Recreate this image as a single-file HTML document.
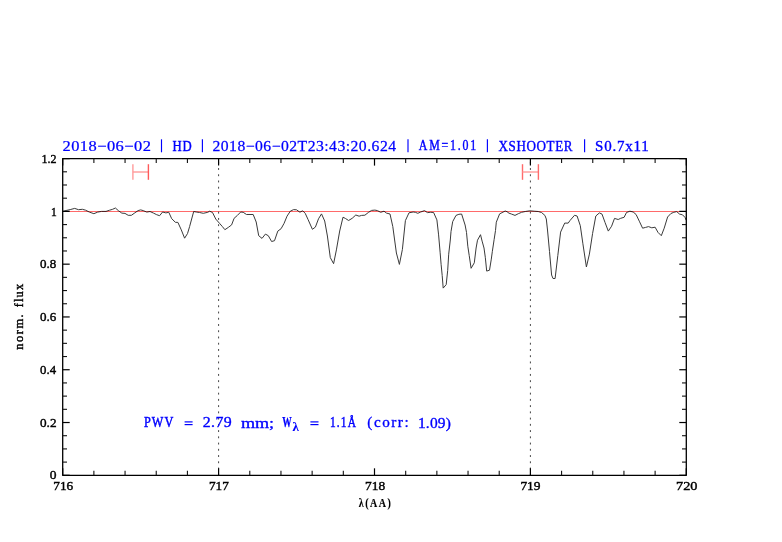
<!DOCTYPE html>
<html><head><meta charset="utf-8">
<style>
html,body{margin:0;padding:0;background:#fff;width:782px;height:542px;overflow:hidden}
svg{display:block}
.mj{stroke:#000;stroke-width:1.2}
.mn{stroke:#111;stroke-width:1.1}
</style></head><body>
<svg width="782" height="542" viewBox="0 0 782 542">
<rect width="782" height="542" fill="#fff"/>

<line x1="218.60" y1="475.30" x2="218.60" y2="158.60" stroke="#444" stroke-width="1.0" stroke-dasharray="1.9 4.34" stroke-dashoffset="0.4"/>
<line x1="530.40" y1="475.30" x2="530.40" y2="158.60" stroke="#444" stroke-width="1.0" stroke-dasharray="1.9 4.34" stroke-dashoffset="0.4"/>
<polyline points="62.9,211.4 66.1,210.5 70.2,209.6 74.7,208.4 78.5,209.7 82.4,209.3 85.6,210.2 89.4,212.1 93.9,213.7 97.7,212.1 101.6,211.4 106.0,211.4 109.6,210.2 112.6,209.3 115.4,208.0 118.3,210.6 121.8,213.1 125.0,213.4 128.2,215.3 131.4,215.3 134.9,212.8 138.1,210.6 140.7,209.9 143.2,210.6 146.8,212.1 150.0,211.5 153.5,213.1 156.7,214.7 159.6,215.7 162.6,212.0 165.9,212.9 168.8,212.3 171.7,218.7 175.4,222.3 177.9,222.4 181.3,229.9 184.6,238.2 187.5,233.6 189.6,226.6 193.7,211.5 196.2,212.0 199.5,212.5 203.3,213.3 207.8,212.3 209.6,211.2 212.5,212.5 215.8,219.1 219.5,223.3 222.4,226.6 224.9,229.7 228.3,227.4 231.6,224.9 234.1,218.3 237.4,215.4 240.7,212.0 243.2,212.3 246.5,214.5 253.2,214.5 256.2,222.0 258.7,235.7 262.0,238.4 265.4,234.1 268.3,235.7 271.6,241.5 274.5,240.7 277.8,231.1 281.1,228.7 284.1,223.3 287.0,216.2 290.3,211.2 293.6,209.6 296.5,209.8 299.9,212.2 302.7,210.8 305.2,213.3 308.0,219.4 312.4,229.3 315.4,227.1 318.5,218.8 321.5,213.9 324.7,221.0 327.4,236.0 330.3,257.6 333.6,263.7 336.4,249.9 339.7,231.0 343.0,217.2 345.5,218.5 348.6,220.5 352.2,218.3 355.8,215.0 359.1,216.2 361.6,215.4 364.9,215.2 368.3,212.5 371.6,210.4 374.9,210.1 377.4,210.6 380.7,212.3 384.0,211.2 386.5,213.1 390.0,214.0 392.8,226.6 396.4,253.0 399.4,264.4 402.4,249.4 405.4,220.6 409.0,212.8 413.2,212.0 415.3,212.3 417.8,213.3 420.7,212.0 424.5,210.6 427.4,212.6 430.7,212.3 433.6,212.5 436.9,219.9 438.6,234.9 440.1,252.2 441.1,264.3 442.2,275.5 443.2,288.1 446.2,284.6 447.7,270.4 448.7,254.2 450.3,240.0 451.0,231.6 452.7,221.6 456.0,215.4 458.9,214.3 461.6,214.0 465.1,225.0 466.5,232.4 467.8,246.2 469.2,255.4 471.1,268.3 474.3,262.8 476.1,248.0 477.5,240.2 480.5,234.7 482.1,241.1 484.0,248.0 485.3,257.3 486.7,271.1 489.5,270.2 491.3,259.1 492.3,251.7 494.1,239.7 495.5,230.5 496.3,222.2 499.6,213.9 505.2,211.0 507.6,211.9 508.3,212.9 511.6,214.1 515.0,215.4 518.3,213.7 521.6,212.3 525.8,211.4 529.9,210.8 534.1,211.2 538.2,211.5 541.5,212.5 544.9,215.4 546.3,219.0 547.5,230.0 549.5,251.5 551.6,275.0 553.0,278.5 555.1,278.5 557.8,255.6 560.6,232.1 564.7,223.1 568.2,223.1 570.0,220.5 574.5,215.3 577.1,216.0 580.3,225.7 582.9,243.8 586.4,267.0 589.4,254.1 592.6,233.4 595.8,216.0 599.4,212.9 602.0,214.1 605.0,222.4 608.3,231.1 611.6,226.2 614.5,218.4 618.2,219.5 620.7,218.3 624.1,217.3 626.5,212.5 629.9,211.2 633.2,212.0 636.1,214.5 639.3,221.2 642.6,228.2 645.6,227.4 648.5,226.6 651.8,227.8 655.1,227.2 658.0,232.4 661.3,235.7 664.2,228.2 667.6,217.0 670.9,213.5 673.8,212.3 676.7,211.6 679.6,214.1 682.5,214.8 685.0,217.4 686.2,220.3" fill="none" stroke="#3a3a3a" stroke-width="1.0" stroke-linejoin="round"/>
<line x1="62.7" y1="211.5" x2="686.3" y2="211.5" stroke="#ff6a6a" stroke-width="1.0" style="mix-blend-mode:multiply"/>
<rect x="62.7" y="158.6" width="623.5999999999999" height="316.70000000000005" fill="none" stroke="#000" stroke-width="1.3" stroke-linejoin="round"/>
<line x1="62.70" y1="475.30" x2="62.70" y2="468.30" class="mj"/>
<line x1="62.70" y1="158.60" x2="62.70" y2="165.60" class="mj"/>
<line x1="93.88" y1="475.30" x2="93.88" y2="470.80" class="mn"/>
<line x1="93.88" y1="158.60" x2="93.88" y2="163.10" class="mn"/>
<line x1="125.06" y1="475.30" x2="125.06" y2="470.80" class="mn"/>
<line x1="125.06" y1="158.60" x2="125.06" y2="163.10" class="mn"/>
<line x1="156.24" y1="475.30" x2="156.24" y2="470.80" class="mn"/>
<line x1="156.24" y1="158.60" x2="156.24" y2="163.10" class="mn"/>
<line x1="187.42" y1="475.30" x2="187.42" y2="470.80" class="mn"/>
<line x1="187.42" y1="158.60" x2="187.42" y2="163.10" class="mn"/>
<line x1="218.60" y1="475.30" x2="218.60" y2="468.30" class="mj"/>
<line x1="218.60" y1="158.60" x2="218.60" y2="165.60" class="mj"/>
<line x1="249.78" y1="475.30" x2="249.78" y2="470.80" class="mn"/>
<line x1="249.78" y1="158.60" x2="249.78" y2="163.10" class="mn"/>
<line x1="280.96" y1="475.30" x2="280.96" y2="470.80" class="mn"/>
<line x1="280.96" y1="158.60" x2="280.96" y2="163.10" class="mn"/>
<line x1="312.14" y1="475.30" x2="312.14" y2="470.80" class="mn"/>
<line x1="312.14" y1="158.60" x2="312.14" y2="163.10" class="mn"/>
<line x1="343.32" y1="475.30" x2="343.32" y2="470.80" class="mn"/>
<line x1="343.32" y1="158.60" x2="343.32" y2="163.10" class="mn"/>
<line x1="374.50" y1="475.30" x2="374.50" y2="468.30" class="mj"/>
<line x1="374.50" y1="158.60" x2="374.50" y2="165.60" class="mj"/>
<line x1="405.68" y1="475.30" x2="405.68" y2="470.80" class="mn"/>
<line x1="405.68" y1="158.60" x2="405.68" y2="163.10" class="mn"/>
<line x1="436.86" y1="475.30" x2="436.86" y2="470.80" class="mn"/>
<line x1="436.86" y1="158.60" x2="436.86" y2="163.10" class="mn"/>
<line x1="468.04" y1="475.30" x2="468.04" y2="470.80" class="mn"/>
<line x1="468.04" y1="158.60" x2="468.04" y2="163.10" class="mn"/>
<line x1="499.22" y1="475.30" x2="499.22" y2="470.80" class="mn"/>
<line x1="499.22" y1="158.60" x2="499.22" y2="163.10" class="mn"/>
<line x1="530.40" y1="475.30" x2="530.40" y2="468.30" class="mj"/>
<line x1="530.40" y1="158.60" x2="530.40" y2="165.60" class="mj"/>
<line x1="561.58" y1="475.30" x2="561.58" y2="470.80" class="mn"/>
<line x1="561.58" y1="158.60" x2="561.58" y2="163.10" class="mn"/>
<line x1="592.76" y1="475.30" x2="592.76" y2="470.80" class="mn"/>
<line x1="592.76" y1="158.60" x2="592.76" y2="163.10" class="mn"/>
<line x1="623.94" y1="475.30" x2="623.94" y2="470.80" class="mn"/>
<line x1="623.94" y1="158.60" x2="623.94" y2="163.10" class="mn"/>
<line x1="655.12" y1="475.30" x2="655.12" y2="470.80" class="mn"/>
<line x1="655.12" y1="158.60" x2="655.12" y2="163.10" class="mn"/>
<line x1="686.30" y1="475.30" x2="686.30" y2="468.30" class="mj"/>
<line x1="686.30" y1="158.60" x2="686.30" y2="165.60" class="mj"/>
<line x1="62.70" y1="475.30" x2="69.70" y2="475.30" class="mj"/>
<line x1="686.30" y1="475.30" x2="679.30" y2="475.30" class="mj"/>
<line x1="62.70" y1="462.10" x2="67.00" y2="462.10" class="mn"/>
<line x1="686.30" y1="462.10" x2="682.00" y2="462.10" class="mn"/>
<line x1="62.70" y1="448.91" x2="67.00" y2="448.91" class="mn"/>
<line x1="686.30" y1="448.91" x2="682.00" y2="448.91" class="mn"/>
<line x1="62.70" y1="435.71" x2="67.00" y2="435.71" class="mn"/>
<line x1="686.30" y1="435.71" x2="682.00" y2="435.71" class="mn"/>
<line x1="62.70" y1="422.52" x2="69.70" y2="422.52" class="mj"/>
<line x1="686.30" y1="422.52" x2="679.30" y2="422.52" class="mj"/>
<line x1="62.70" y1="409.32" x2="67.00" y2="409.32" class="mn"/>
<line x1="686.30" y1="409.32" x2="682.00" y2="409.32" class="mn"/>
<line x1="62.70" y1="396.12" x2="67.00" y2="396.12" class="mn"/>
<line x1="686.30" y1="396.12" x2="682.00" y2="396.12" class="mn"/>
<line x1="62.70" y1="382.93" x2="67.00" y2="382.93" class="mn"/>
<line x1="686.30" y1="382.93" x2="682.00" y2="382.93" class="mn"/>
<line x1="62.70" y1="369.73" x2="69.70" y2="369.73" class="mj"/>
<line x1="686.30" y1="369.73" x2="679.30" y2="369.73" class="mj"/>
<line x1="62.70" y1="356.54" x2="67.00" y2="356.54" class="mn"/>
<line x1="686.30" y1="356.54" x2="682.00" y2="356.54" class="mn"/>
<line x1="62.70" y1="343.34" x2="67.00" y2="343.34" class="mn"/>
<line x1="686.30" y1="343.34" x2="682.00" y2="343.34" class="mn"/>
<line x1="62.70" y1="330.15" x2="67.00" y2="330.15" class="mn"/>
<line x1="686.30" y1="330.15" x2="682.00" y2="330.15" class="mn"/>
<line x1="62.70" y1="316.95" x2="69.70" y2="316.95" class="mj"/>
<line x1="686.30" y1="316.95" x2="679.30" y2="316.95" class="mj"/>
<line x1="62.70" y1="303.75" x2="67.00" y2="303.75" class="mn"/>
<line x1="686.30" y1="303.75" x2="682.00" y2="303.75" class="mn"/>
<line x1="62.70" y1="290.56" x2="67.00" y2="290.56" class="mn"/>
<line x1="686.30" y1="290.56" x2="682.00" y2="290.56" class="mn"/>
<line x1="62.70" y1="277.36" x2="67.00" y2="277.36" class="mn"/>
<line x1="686.30" y1="277.36" x2="682.00" y2="277.36" class="mn"/>
<line x1="62.70" y1="264.17" x2="69.70" y2="264.17" class="mj"/>
<line x1="686.30" y1="264.17" x2="679.30" y2="264.17" class="mj"/>
<line x1="62.70" y1="250.97" x2="67.00" y2="250.97" class="mn"/>
<line x1="686.30" y1="250.97" x2="682.00" y2="250.97" class="mn"/>
<line x1="62.70" y1="237.77" x2="67.00" y2="237.77" class="mn"/>
<line x1="686.30" y1="237.77" x2="682.00" y2="237.77" class="mn"/>
<line x1="62.70" y1="224.58" x2="67.00" y2="224.58" class="mn"/>
<line x1="686.30" y1="224.58" x2="682.00" y2="224.58" class="mn"/>
<line x1="62.70" y1="211.38" x2="69.70" y2="211.38" class="mj"/>
<line x1="686.30" y1="211.38" x2="679.30" y2="211.38" class="mj"/>
<line x1="62.70" y1="198.19" x2="67.00" y2="198.19" class="mn"/>
<line x1="686.30" y1="198.19" x2="682.00" y2="198.19" class="mn"/>
<line x1="62.70" y1="184.99" x2="67.00" y2="184.99" class="mn"/>
<line x1="686.30" y1="184.99" x2="682.00" y2="184.99" class="mn"/>
<line x1="62.70" y1="171.80" x2="67.00" y2="171.80" class="mn"/>
<line x1="686.30" y1="171.80" x2="682.00" y2="171.80" class="mn"/>
<line x1="62.70" y1="158.60" x2="69.70" y2="158.60" class="mj"/>
<line x1="686.30" y1="158.60" x2="679.30" y2="158.60" class="mj"/>
<g stroke="#ff9a9a" stroke-width="1.4">
<line x1="132.9" y1="164.2" x2="132.9" y2="179.8"/>
<line x1="132.9" y1="172" x2="148.4" y2="172"/>
<line x1="148.4" y1="164.2" x2="148.4" y2="179.8" stroke="#ff5a5a"/>
<line x1="522.5" y1="164.2" x2="522.5" y2="179.8" stroke="#ff6a6a"/>
<line x1="522.5" y1="172" x2="538.4" y2="172"/>
<line x1="538.4" y1="164.2" x2="538.4" y2="179.8" stroke="#ff6a6a"/>
</g>
<g stroke="#0000ff" stroke-width="1.15"><line x1="161.5" y1="139.3" x2="161.5" y2="152.3"/><line x1="202.4" y1="139.3" x2="202.4" y2="152.3"/><line x1="408.0" y1="139.3" x2="408.0" y2="152.3"/><line x1="487.4" y1="139.3" x2="487.4" y2="152.3"/><line x1="584.6" y1="139.3" x2="584.6" y2="152.3"/></g>
<g stroke="#0000ff" stroke-width="1.2">
<line x1="184.6" y1="421.9" x2="192.6" y2="421.9"/><line x1="184.6" y1="424.6" x2="192.6" y2="424.6"/>
<line x1="310.4" y1="421.9" x2="318.5" y2="421.9"/><line x1="310.4" y1="424.6" x2="318.5" y2="424.6"/>
</g>
<text transform="translate(22.850000000000016,295.52499999999964) rotate(-90)" text-anchor="middle" font-family="Liberation Serif" font-size="12.4px" fill="#000" stroke="#000" stroke-width="0.4" textLength="23.25" lengthAdjust="spacing">flux</text>
<text transform="translate(22.850000000000016,332.02499999999964) rotate(-90)" text-anchor="middle" font-family="Liberation Serif" font-size="12.4px" fill="#000" stroke="#000" stroke-width="0.4" textLength="35.34999999999949" lengthAdjust="spacing">norm.</text>
<text transform="translate(62.500,150.594) scale(1.1,1)" x="0" y="0" font-family="Liberation Serif" font-weight="normal" font-size="14.926px" fill="#0000ff" stroke="#0000ff" stroke-width="0.25" textLength="80.398" lengthAdjust="spacing">2018−06−02</text>
<text transform="translate(172.431,150.625) scale(0.85,1)" x="0" y="0" font-family="Liberation Serif" font-weight="normal" font-size="14.985px" fill="#0000ff" stroke="#0000ff" stroke-width="0.45" textLength="22.575" lengthAdjust="spacing">HD</text>
<text transform="translate(212.500,150.594) scale(1.05,1)" x="0" y="0" font-family="Liberation Serif" font-weight="normal" font-size="14.926px" fill="#0000ff" stroke="#0000ff" stroke-width="0.25" textLength="174.804" lengthAdjust="spacing">2018−06−02T23:43:20.624</text>
<text transform="translate(418.850,150.313) scale(0.82,1)" x="0" y="0" font-family="Liberation Serif" font-weight="normal" font-size="14.512px" fill="#0000ff" stroke="#0000ff" stroke-width="0.4" textLength="69.825" lengthAdjust="spacing">AM=1.01</text>
<text transform="translate(498.405,150.543) scale(0.88,1)" x="0" y="0" font-family="Liberation Serif" font-weight="normal" font-size="14.857px" fill="#0000ff" stroke="#0000ff" stroke-width="0.4" textLength="84.252" lengthAdjust="spacing">XSHOOTER</text>
<text transform="translate(595.050,150.643) scale(1.0,1)" x="0" y="0" font-family="Liberation Serif" font-weight="normal" font-size="14.995px" fill="#0000ff" stroke="#0000ff" stroke-width="0.35" textLength="53.766" lengthAdjust="spacing">S0.7x11</text>
<text transform="translate(143.942,427.348) scale(0.8,1)" x="0" y="0" font-family="Liberation Serif" font-weight="normal" font-size="15.267px" fill="#0000ff" stroke="#0000ff" stroke-width="0.5" textLength="36.761" lengthAdjust="spacing">PWV</text>
<text transform="translate(202.700,427.460) scale(1.1,1)" x="0" y="0" font-family="Liberation Serif" font-weight="normal" font-size="14.441px" fill="#0000ff" stroke="#0000ff" stroke-width="0.35" textLength="26.426" lengthAdjust="spacing">2.79</text>
<text x="240.904" y="428.000" font-family="Liberation Serif" font-weight="normal" font-size="14.706px" fill="#0000ff" stroke="#0000ff" stroke-width="0.35" textLength="33.287" lengthAdjust="spacingAndGlyphs">mm;</text>
<text x="282.158" y="427.010" font-family="Liberation Serif" font-weight="bold" font-size="14.048px" fill="#0000ff" stroke="#0000ff" stroke-width="0.25" textLength="9.439" lengthAdjust="spacingAndGlyphs">W</text>
<text x="292.614" y="431.325" font-family="Liberation Serif" font-weight="bold" font-size="12.136px" fill="#0000ff" stroke="#0000ff" stroke-width="0.1" textLength="6.342" lengthAdjust="spacingAndGlyphs">λ</text>
<text transform="translate(329.950,427.430) scale(0.75,1)" x="0" y="0" font-family="Liberation Serif" font-weight="normal" font-size="15.206px" fill="#0000ff" stroke="#0000ff" stroke-width="0.5" textLength="34.758" lengthAdjust="spacing">1.1Å</text>
<text transform="translate(367.350,426.889) scale(1.0,1)" x="0" y="0" font-family="Liberation Serif" font-weight="normal" font-size="15.151px" fill="#0000ff" stroke="#0000ff" stroke-width="0.35" textLength="41.253" lengthAdjust="spacing">(corr:</text>
<text transform="translate(417.950,428.000) scale(1.05,1)" x="0" y="0" font-family="Liberation Serif" font-weight="normal" font-size="14.706px" fill="#0000ff" stroke="#0000ff" stroke-width="0.35" textLength="31.342" lengthAdjust="spacing">1.09)</text>
<text x="41.377" y="162.560" font-family="Liberation Serif" font-weight="normal" font-size="12.143px" fill="#000000" stroke="#000000" stroke-width="0.4" textLength="15.032" lengthAdjust="spacingAndGlyphs">1.2</text>
<text x="51.044" y="215.961" font-family="Liberation Serif" font-weight="normal" font-size="12.163px" fill="#000000" stroke="#000000" stroke-width="0.4" textLength="5.755" lengthAdjust="spacingAndGlyphs">1</text>
<text x="40.038" y="268.468" font-family="Liberation Serif" font-weight="normal" font-size="12.462px" fill="#000000" stroke="#000000" stroke-width="0.4" textLength="16.268" lengthAdjust="spacingAndGlyphs">0.8</text>
<text x="40.030" y="321.039" font-family="Liberation Serif" font-weight="normal" font-size="12.462px" fill="#000000" stroke="#000000" stroke-width="0.4" textLength="16.259" lengthAdjust="spacingAndGlyphs">0.6</text>
<text x="40.040" y="373.968" font-family="Liberation Serif" font-weight="normal" font-size="12.462px" fill="#000000" stroke="#000000" stroke-width="0.4" textLength="16.005" lengthAdjust="spacingAndGlyphs">0.4</text>
<text x="40.030" y="426.539" font-family="Liberation Serif" font-weight="normal" font-size="12.462px" fill="#000000" stroke="#000000" stroke-width="0.4" textLength="16.530" lengthAdjust="spacingAndGlyphs">0.2</text>
<text x="49.706" y="479.407" font-family="Liberation Serif" font-weight="normal" font-size="12.462px" fill="#000000" stroke="#000000" stroke-width="0.4" textLength="6.755" lengthAdjust="spacingAndGlyphs">0</text>
<text x="53.253" y="490.060" font-family="Liberation Serif" font-weight="normal" font-size="12.143px" fill="#000000" stroke="#000000" stroke-width="0.4" textLength="19.928" lengthAdjust="spacingAndGlyphs">716</text>
<text x="208.895" y="490.067" font-family="Liberation Serif" font-weight="normal" font-size="12.163px" fill="#000000" stroke="#000000" stroke-width="0.4" textLength="19.920" lengthAdjust="spacingAndGlyphs">717</text>
<text x="364.957" y="490.463" font-family="Liberation Serif" font-weight="normal" font-size="12.378px" fill="#000000" stroke="#000000" stroke-width="0.4" textLength="20.150" lengthAdjust="spacingAndGlyphs">718</text>
<text x="520.394" y="490.060" font-family="Liberation Serif" font-weight="normal" font-size="12.143px" fill="#000000" stroke="#000000" stroke-width="0.4" textLength="20.186" lengthAdjust="spacingAndGlyphs">719</text>
<text x="676.009" y="490.463" font-family="Liberation Serif" font-weight="normal" font-size="12.378px" fill="#000000" stroke="#000000" stroke-width="0.4" textLength="21.473" lengthAdjust="spacingAndGlyphs">720</text>
<text transform="translate(358.682,506.606) scale(0.8,1)" x="0" y="0" font-family="Liberation Serif" font-weight="bold" font-size="12.453px" fill="#000000" stroke="#000000" stroke-width="0.15" textLength="40.201" lengthAdjust="spacing">λ(AA)</text>
</svg>
</body></html>
